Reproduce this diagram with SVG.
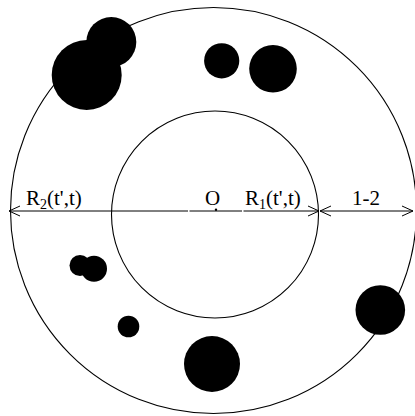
<svg xmlns="http://www.w3.org/2000/svg" width="415" height="416" viewBox="0 0 415 416">
<style>
.ring{fill:none;stroke:#000;stroke-width:1.1}
.blob{fill:#000}
.ln{fill:none;stroke:#000;stroke-width:1}
.lbl{font-family:"Liberation Serif","Times New Roman",serif;font-size:21px;fill:#000}
.sub{font-size:14px}
</style>
<defs>
<marker id="ah" markerWidth="12" markerHeight="12" refX="11" refY="6" orient="auto-start-reverse" markerUnits="userSpaceOnUse">
<path d="M0,1 L11,6 L0,11" fill="none" stroke="#000" stroke-width="1"/>
</marker>
</defs>
<rect width="415" height="416" fill="#fff"/>
<g id="outer"><circle class="ring" cx="213.5" cy="210.5" r="203"/></g>
<g id="inner"><circle class="ring" cx="215" cy="214.5" r="103.5"/></g>
<g id="particles">
<circle class="blob" cx="86.7" cy="75" r="35"/>
<circle class="blob" cx="111.3" cy="42" r="25"/>
<circle class="blob" cx="221.7" cy="60.8" r="17.6"/>
<circle class="blob" cx="273" cy="68.8" r="23.8"/>
<circle class="blob" cx="380.3" cy="310" r="24.8"/>
<circle class="blob" cx="80" cy="265.5" r="10.5"/>
<circle class="blob" cx="94" cy="268.8" r="13"/>
<circle class="blob" cx="128.5" cy="326.5" r="10.8"/>
<circle class="blob" cx="212" cy="364" r="28"/>
</g>
<g id="connectors">
<line class="ln" x1="188" y1="211" x2="9" y2="211" marker-end="url(#ah)"/>
<line class="ln" x1="189.5" y1="211" x2="242" y2="211"/>
<line class="ln" x1="243.5" y1="211" x2="319" y2="211" marker-end="url(#ah)"/>
<line class="ln" x1="320" y1="211" x2="413" y2="211" marker-start="url(#ah)" marker-end="url(#ah)"/>
</g>
<g id="center"><circle cx="216" cy="209.8" r="1.2" fill="#000"/></g>
<g id="labels">
<text class="lbl" x="26" y="205">R<tspan class="sub" dy="4">2</tspan><tspan dy="-4">(t',t)</tspan></text>
<text class="lbl" x="205" y="205">O</text>
<text class="lbl" x="245" y="205">R<tspan class="sub" dy="4">1</tspan><tspan dy="-4">(t',t)</tspan></text>
<text class="lbl" x="352" y="205">1-2</text>
</g>
</svg>
